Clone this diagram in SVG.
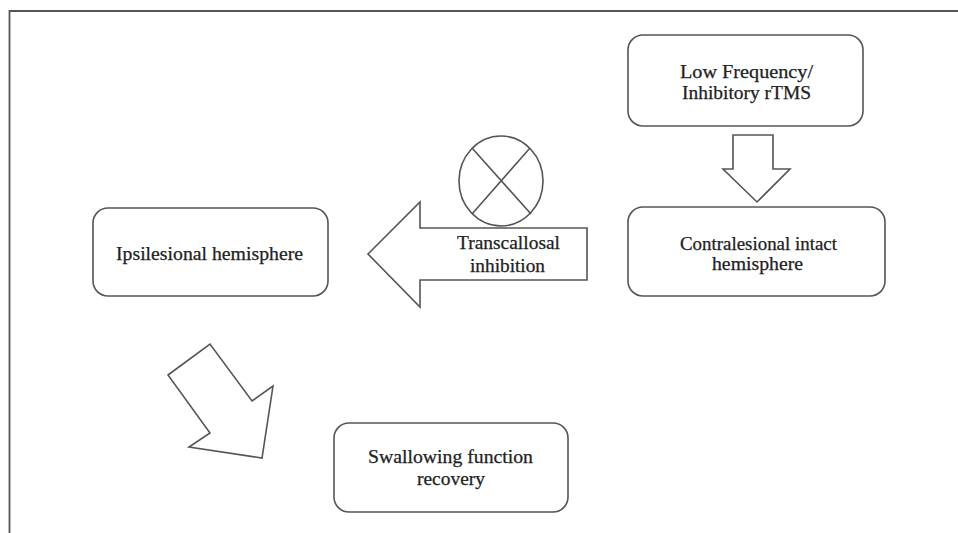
<svg xmlns="http://www.w3.org/2000/svg" width="958" height="533" viewBox="0 0 958 533">
<style>
.box{fill:#fff;stroke:#555;stroke-width:1.6}
.shape{fill:#fff;stroke:#555;stroke-width:1.6;stroke-linejoin:miter}
.t{font-family:"Liberation Serif","Times New Roman",serif;font-size:18px;fill:#222;stroke:#222;stroke-width:0.25;text-anchor:middle}
.frame{fill:none;stroke:#555;stroke-width:1.8}
</style>
<rect x="0" y="0" width="958" height="533" fill="#fff"/>
<path class="frame" d="M9.5,533 V11 H958"/>
<g id="node-lowfreq">
<rect class="box" x="628" y="35" width="235" height="91" rx="15"/>
<text class="t" x="746.5" y="78" textLength="133" lengthAdjust="spacingAndGlyphs">Low Frequency/</text>
<text class="t" x="746.5" y="99" textLength="129" lengthAdjust="spacingAndGlyphs">Inhibitory rTMS</text>
</g>
<g id="node-contralesional">
<rect class="box" x="628" y="207" width="257" height="89" rx="15"/>
<text class="t" x="758.5" y="250" textLength="157" lengthAdjust="spacingAndGlyphs">Contralesional intact</text>
<text class="t" x="757.5" y="270" textLength="91" lengthAdjust="spacingAndGlyphs">hemisphere</text>
</g>
<g id="node-ipsilesional">
<rect class="box" x="93" y="208" width="235" height="88" rx="15"/>
<text class="t" x="209.5" y="260" textLength="187" lengthAdjust="spacingAndGlyphs">Ipsilesional hemisphere</text>
</g>
<g id="node-swallowing">
<rect class="box" x="334" y="423" width="234" height="89" rx="15"/>
<text class="t" x="450.5" y="463" textLength="165" lengthAdjust="spacingAndGlyphs">Swallowing function</text>
<text class="t" x="451" y="485" textLength="68" lengthAdjust="spacingAndGlyphs">recovery</text>
</g>
<g id="connectors">
<g id="arrow-down">
<polygon class="shape" points="733,135 773,135 773,169 790,169 757,202 723,169 733,169"/>
</g>
<g id="arrow-transcallosal">
<polygon class="shape" points="368,254 420,202 420,228 587,228 587,280 420,280 420,307"/>
<text class="t" x="508.5" y="249" textLength="103" lengthAdjust="spacingAndGlyphs">Transcallosal</text>
<text class="t" x="507.5" y="272" textLength="75" lengthAdjust="spacingAndGlyphs">inhibition</text>
</g>
<g id="inhibition-symbol">
<ellipse class="shape" cx="501" cy="181" rx="42" ry="45"/>
<line class="shape" x1="472" y1="148" x2="531" y2="214"/>
<line class="shape" x1="530" y1="148" x2="472" y2="214"/>
</g>
<g id="arrow-diagonal">
<polygon class="shape" points="168,375 210,344 252,401 273,386 262,458 189,447 210,433"/>
</g>
</g>
</svg>
